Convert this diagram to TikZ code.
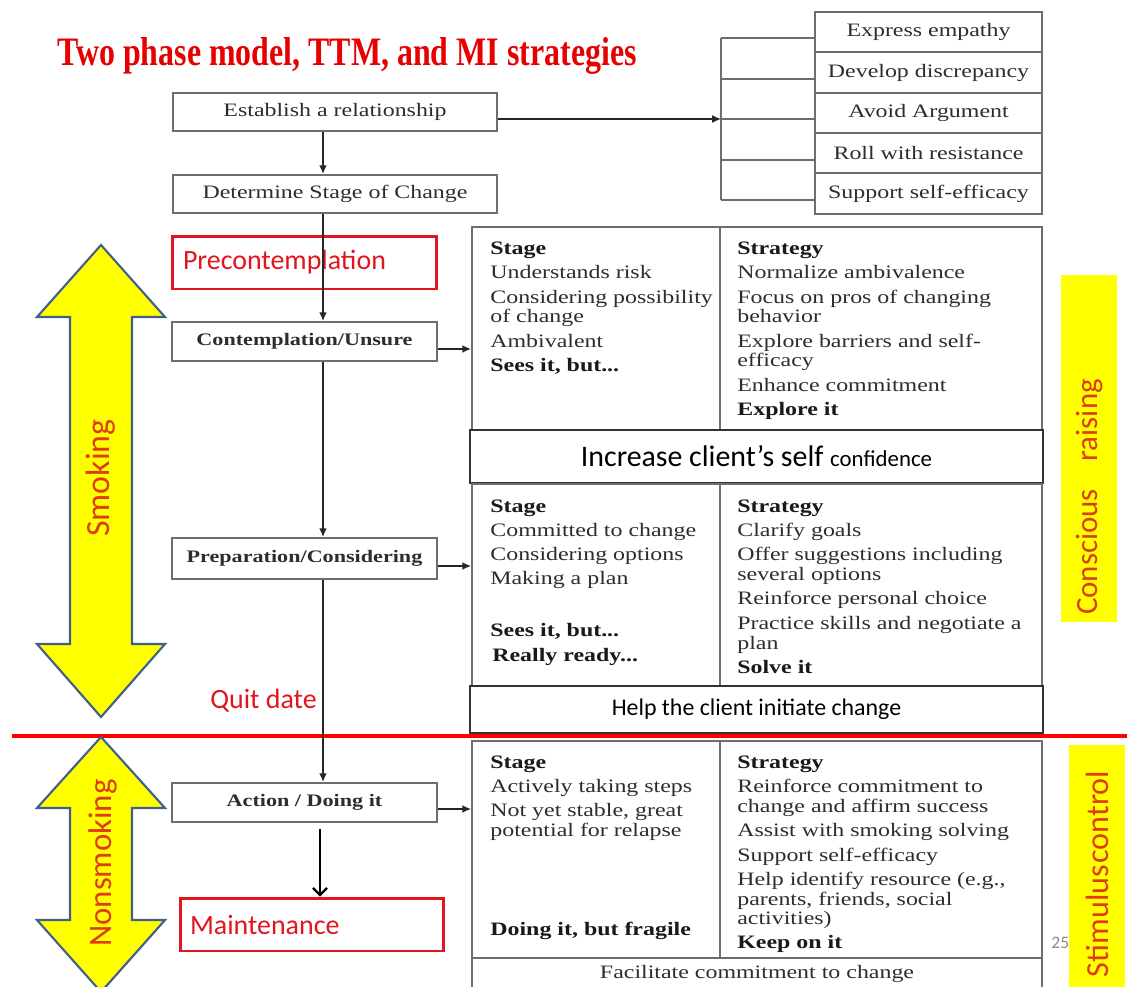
\documentclass[tikz,border=0pt]{standalone}
\usepackage{fontspec}
\setmainfont{Liberation Serif}
\newfontfamily\tfont[FakeStretch=1.26]{Liberation Serif}
\newfontfamily\ttlfont[FakeStretch=0.79]{Liberation Serif}
\newfontfamily\cfont{Carlito}
\usetikzlibrary{arrows.meta,calc}
\definecolor{ttlred}{RGB}{230,0,0}
\definecolor{lblred}{RGB}{226,20,30}
\definecolor{ylred}{RGB}{222,60,20}
\definecolor{yel}{RGB}{255,255,0}
\definecolor{arrborder}{RGB}{65,95,140}
\definecolor{boxgray}{RGB}{110,110,110}
\definecolor{txtgray}{RGB}{45,45,45}
\tikzset{
  gbox/.style={draw=boxgray, line width=1.1pt, fill=white, inner sep=0pt},
  rbox/.style={draw=lblred, line width=1.7pt, fill=white, inner sep=0pt},
  tt/.style={font=\tfont\fontsize{10.8}{12}\selectfont, text=txtgray, inner sep=0pt, anchor=base west},
  tb/.style={tt, font=\tfont\bfseries\fontsize{10.8}{12}\selectfont, text=black!90},
  bx/.style={font=\tfont\fontsize{10.8}{12}\selectfont, text=txtgray},
  bxb/.style={font=\tfont\bfseries\fontsize{10}{12}\selectfont, text=txtgray},
  redlab/.style={font=\cfont\fontsize{15.9}{18}\selectfont, text=lblred, inner sep=0pt, anchor=base west},
  ylab/.style={font=\cfont\fontsize{17.6}{20}\selectfont, text=ylred, inner sep=0pt},
  arr/.style={draw=black!85, line width=0.9pt, -{Latex[length=5pt,width=4.5pt]}},
  arr2/.style={draw=black, line width=1.3pt, -{Straight Barb[length=4pt,width=8pt]}},
  ln/.style={draw=boxgray, line width=1.1pt},
  yarrow/.style={fill=yel, draw=arrborder, line width=1.2pt, line join=miter},
  yrect/.style={fill=yel, draw=none, inner sep=0pt},
  redline/.style={draw=red, line width=1.8pt},
}
\begin{document}
\begin{tikzpicture}[x=0.02cm, y=-0.02cm]
\useasboundingbox (0,0) rectangle (1127,987);
\fill[white] (0,0) rectangle (1127,987);

% title
\node[font=\ttlfont\bfseries\fontsize{23}{26}\selectfont, text=ttlred, inner sep=0pt, anchor=base west] (title) at (57,65) {Two phase model, TTM, and MI strategies};

% helper coordinates
\coordinate (sp) at (323,0);
\coordinate (sp2) at (320,0);
\coordinate (dv) at (720,0);
\coordinate (b1) at (721,38);
\coordinate (b2) at (721,79);
\coordinate (b3) at (721,119);
\coordinate (b4) at (721,160);
\coordinate (b5) at (721,200);

% MI strategies list
\node[gbox, minimum width=4.54cm, minimum height=0.80cm, bx] (mi1) at (928.5,32) {Express empathy};
\node[gbox, minimum width=4.54cm, minimum height=0.82cm, bx] (mi2) at (928.5,72.5) {Develop discrepancy};
\node[gbox, minimum width=4.54cm, minimum height=0.80cm, bx] (mi3) at (928.5,113) {Avoid Argument};
\node[gbox, minimum width=4.54cm, minimum height=0.80cm, bx] (mi4) at (928.5,153) {Roll with resistance};
\node[gbox, minimum width=4.54cm, minimum height=0.82cm, bx] (mi5) at (928.5,193.5) {Support self-efficacy};
\draw[ln] (b1) -- (b5);
\foreach \b in {b1,b2,b3,b4,b5} \draw[ln] (\b) -- (\b -| mi1.west);

% left flow boxes
\node[gbox, minimum width=6.48cm, minimum height=0.76cm, bx] (est) at (335,112) {Establish a relationship};
\node[gbox, minimum width=6.48cm, minimum height=0.76cm, bx] (det) at (335,194) {Determine Stage of Change};
\node[rbox, minimum width=5.3cm, minimum height=1.06cm, text width=4.86cm, align=left, font=\cfont\fontsize{15.9}{18}\selectfont, text=lblred] (pre) at (304.5,262.5) {Precontemplation};
\node[gbox, minimum width=5.3cm, minimum height=0.78cm, bxb] (con) at (304.5,341.5) {Contemplation/Unsure};
\node[gbox, minimum width=5.3cm, minimum height=0.82cm, bxb] (prep) at (304.5,558.5) {Preparation/Considering};
\node[gbox, minimum width=5.3cm, minimum height=0.78cm, bxb] (act) at (304.5,802.5) {Action / Doing it};
\node[rbox, minimum width=5.28cm, minimum height=1.06cm, text width=4.88cm, align=left, font=\cfont\fontsize{15.9}{18}\selectfont, text=lblred] (mai) at (312,924.5) {Maintenance};

% tables
\node[gbox, minimum width=11.4cm, minimum height=4.06cm] (t1) at (757,328.5) {};
\draw[ln] (t1.north -| dv) -- (t1.south -| dv);
\node[gbox, draw=black!80, minimum width=11.46cm, minimum height=1.06cm, font=\cfont\fontsize{17}{20}\selectfont] (inc) at (756.5,456.5) {Increase client’s self {\fontsize{13}{16}\selectfont confidence}};
\node[gbox, minimum width=11.4cm, minimum height=4.04cm] (t2) at (757,585) {};
\draw[ln] (t2.north -| dv) -- (t2.south -| dv);
\node[gbox, draw=black!80, minimum width=11.46cm, minimum height=0.94cm, font=\cfont\fontsize{13.6}{16}\selectfont] (help) at (756.5,709.5) {Help the client initiate change};
\node[gbox, minimum width=11.4cm, minimum height=4.34cm] (t3) at (757,849.5) {};
\draw[ln] (t3.north -| dv) -- (t3.south -| dv);
\node[gbox, minimum width=11.4cm, minimum height=0.64cm, bx] (fac) at (757,974) {Facilitate commitment to change};

% table 1 text
\node[tb] (a1) at (490,254) {Stage};
\node[tt] (a2) at (490,278) {Understands risk};
\node[tt] (a3) at (490,303) {Considering possibility};
\node[tt] (a4) at (490,322) {of change};
\node[tt] (a5) at (490,347) {Ambivalent};
\node[tb] (a6) at (490,371) {Sees it, but...};
\node[tb] (b1t) at (737,254) {Strategy};
\node[tt] (b2t) at (737,278) {Normalize ambivalence};
\node[tt] (b3t) at (737,303) {Focus on pros of changing};
\node[tt] (b4t) at (737,322) {behavior};
\node[tt] (b5t) at (737,347) {Explore barriers and self-};
\node[tt] (b6t) at (737,366) {efficacy};
\node[tt] (b7t) at (737,391) {Enhance commitment};
\node[tb] (b8t) at (737,415) {Explore it};

% table 2 text
\node[tb] (c1) at (490,512) {Stage};
\node[tt] (c2) at (490,536) {Committed to change};
\node[tt] (c3) at (490,560) {Considering options};
\node[tt] (c4) at (490,584) {Making a plan};
\node[tb] (c5) at (490,636) {Sees it, but...};
\node[tb] (c6) at (492,661) {Really ready...};
\node[tb] (d1) at (737,512) {Strategy};
\node[tt] (d2) at (737,536) {Clarify goals};
\node[tt] (d3) at (737,560) {Offer suggestions including};
\node[tt] (d4) at (737,580) {several options};
\node[tt] (d5) at (737,604) {Reinforce personal choice};
\node[tt] (d6) at (737,629) {Practice skills and negotiate a};
\node[tt] (d7) at (737,649) {plan};
\node[tb] (d8) at (737,673) {Solve it};

% table 3 text
\node[tb] (e1) at (490,768) {Stage};
\node[tt] (e2) at (490,792) {Actively taking steps};
\node[tt] (e3) at (490,816) {Not yet stable, great};
\node[tt] (e4) at (490,836) {potential for relapse};
\node[tb] (e5) at (490,935) {Doing it, but fragile};
\node[tb] (f1) at (737,768) {Strategy};
\node[tt] (f2) at (737,792) {Reinforce commitment to};
\node[tt] (f3) at (737,812) {change and affirm success};
\node[tt] (f4) at (737,836) {Assist with smoking solving};
\node[tt] (f5) at (737,861) {Support self-efficacy};
\node[tt] (f6) at (737,885) {Help identify resource (e.g.,};
\node[tt] (f7) at (737,905) {parents, friends, social};
\node[tt] (f8) at (737,924) {activities)};
\node[tb] (f9) at (737,948) {Keep on it};

% red separator
\coordinate (rl) at (12,736);
\coordinate (rr) at (1127,736);
\draw[redline] (rl) -- (rr);

% connectors
\draw[arr] (est.south -| sp) -- (det.north -| sp);
\draw[arr] (est.east |- b3) -- (b3);
\draw[arr] (det.south -| sp) -- (con.north -| sp);
\draw[arr] (con.south -| sp) -- (prep.north -| sp);
\draw[arr] (prep.south -| sp) -- (act.north -| sp);
\draw[arr2] ($(act.south -| sp2)+(0,6)$) -- (mai.north -| sp2);
\draw[arr] ($(con.east)+(0,7.5)$) -- ($(con.east -| t1.west)+(0,7.5)$);
\draw[arr] ($(prep.east)+(0,7.5)$) -- ($(prep.east -| t2.west)+(0,7.5)$);
\draw[arr] ($(act.east)+(0,6.5)$) -- ($(act.east -| t3.west)+(0,6.5)$);

% labels
\node[redlab] (quit) at (210,708) {Quit date};

% yellow double arrows
\draw[yarrow] (101,245) -- (165,317) -- (132,317) -- (132,644) -- (165,644) -- (101,717) -- (37,644) -- (70,644) -- (70,317) -- (37,317) -- cycle;
\node[ylab, font=\cfont\fontsize{19.3}{22}\selectfont, rotate=90] (smk) at (101,478) {Smoking};
\draw[yarrow] (101,737) -- (165,808) -- (132,808) -- (132,920) -- (165,920) -- (101,992) -- (37,920) -- (70,920) -- (70,808) -- (37,808) -- cycle;
\node[ylab, font=\cfont\fontsize{18.7}{22}\selectfont, rotate=90] (nsm) at (103,863) {Nonsmoking};

% right yellow bars
\node[yrect, minimum width=1.12cm, minimum height=6.94cm] (crbox) at (1089,448.5) {};
\node[ylab, rotate=90] (crlab) at (1090,497) {Conscious\hspace{0.9em}raising};
\node[font=\cfont\fontsize{10}{12}\selectfont, text=black!45, inner sep=0pt, anchor=west] (pg) at (1051,943) {25};
\node[yrect, minimum width=1.12cm, minimum height=5.0cm] (scbox) at (1097,870) {};
\node[ylab, font=\cfont\fontsize{18.3}{20}\selectfont, rotate=90] (sclab) at (1097,874) {Stimulus\hspace{0.05em}control};
\end{tikzpicture}
\end{document}
